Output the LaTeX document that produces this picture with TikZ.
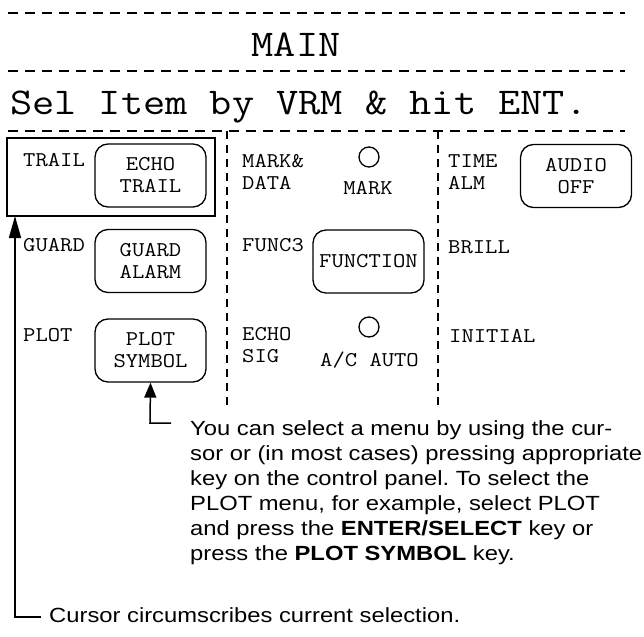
\documentclass[tikz,border=0pt]{standalone}
\usepackage{fontspec}
\setmainfont{Liberation Sans}[FakeStretch=1.16]
\setmonofont{Latin Modern Mono}[FakeStretch=1.14]
\usetikzlibrary{arrows.meta}
\tikzset{
  keybox/.style={draw, line width=1.3pt, rounded corners=13pt, minimum width=111pt,
    minimum height=63pt, align=center, inner sep=0pt,
    font=\ttfamily\fontsize{21}{22}\selectfont},
  itemlbl/.style={anchor=west, align=left, inner sep=0pt,
    font=\ttfamily\fontsize{21}{22}\selectfont},
  headtxt/.style={inner sep=0pt, font=\ttfamily\fontsize{37.8}{40}\selectfont},
  hdash/.style={line width=1.5pt, dash pattern=on 10pt off 7pt},
  vdash/.style={line width=1.3pt, dash pattern=on 8pt off 6pt},
  lamp/.style={draw, line width=1.3pt, circle, minimum size=20pt, inner sep=0pt},
  note/.style={inner sep=0pt, align=left, font=\frenchspacing\fontsize{20.5}{25}\selectfont},
  pointer/.style={line width=1.5pt, -{Triangle[length=#1, width=12pt]}},
}
\begin{document}
\begin{tikzpicture}[x=1pt,y=-1pt]
\useasboundingbox (0,0) rectangle (644,636);
% header
\draw[hdash] (8,13) -- (625,13);
\node[headtxt, anchor=base] (title) at (296,57) {MAIN};
\draw[hdash] (8,71) -- (625,71);
\node[headtxt, anchor=base west] (hint) at (10,115) {Sel Item by VRM \& hit ENT.};
% grid
\draw[hdash] (8,131) -- (625,131);
\draw[vdash] (227,131) -- (227,408);
\draw[vdash] (438,131) -- (438,408);
% first column
\node[itemlbl] (trail) at (23,160) {TRAIL};
\node[keybox] (echotrail) at (150.5,175.5) {ECHO\\TRAIL};
\node[itemlbl] (guard) at (23,245) {GUARD};
\node[keybox] (guardalarm) at (150.5,261) {GUARD\\ALARM};
\node[itemlbl] (plot) at (23,335) {PLOT};
\node[keybox] (plotsymbol) at (150.5,350.5) {PLOT\\SYMBOL};
\draw[line width=2.5pt] (7,138) rectangle (215,216);
\coordinate (cursor) at (15,216);
% second column
\node[itemlbl] (markdata) at (242,172) {MARK\&\\DATA};
\node[lamp] (marklamp) at (369,157) {};
\node[itemlbl, anchor=center] (mark) at (368,188) {MARK};
\node[itemlbl] (func) at (242,245) {FUNC3};
\node[keybox] (function) at (368.5,261.5) {FUNCTION};
\node[itemlbl] (echosig) at (242,345) {ECHO\\SIG};
\node[lamp] (aclamp) at (369,327) {};
\node[itemlbl, anchor=center] (acauto) at (369.5,360) {A/C AUTO};
% third column
\node[itemlbl] (timealm) at (448,172) {TIME\\ALM};
\node[keybox] (audiooff) at (576,176) {AUDIO\\OFF};
\node[itemlbl] (brill) at (448,247) {BRILL};
\node[itemlbl] (initial) at (449,336) {INITIAL};
% notes
\node[note, anchor=north west] (menunote) at (190,420) {You can select a menu by using the cur-\\
sor or (in most cases) pressing appropriate\\
key on the control panel. To select the\\
PLOT menu, for example, select PLOT\\
and press the \textbf{ENTER/SELECT} key or\\
press the \textbf{PLOT SYMBOL} key.};
\coordinate (menuelbow) at (150,423);
\draw[pointer=15pt] (171,423) -- (menuelbow) -- (plotsymbol.south);
\node[note, anchor=base west] (cursornote) at (49,622) {Cursor circumscribes current selection.};
\coordinate (cursorelbow) at (15,617);
\draw[pointer=22pt] (41,617) -- (cursorelbow) -- (cursor);
\end{tikzpicture}
\end{document}
